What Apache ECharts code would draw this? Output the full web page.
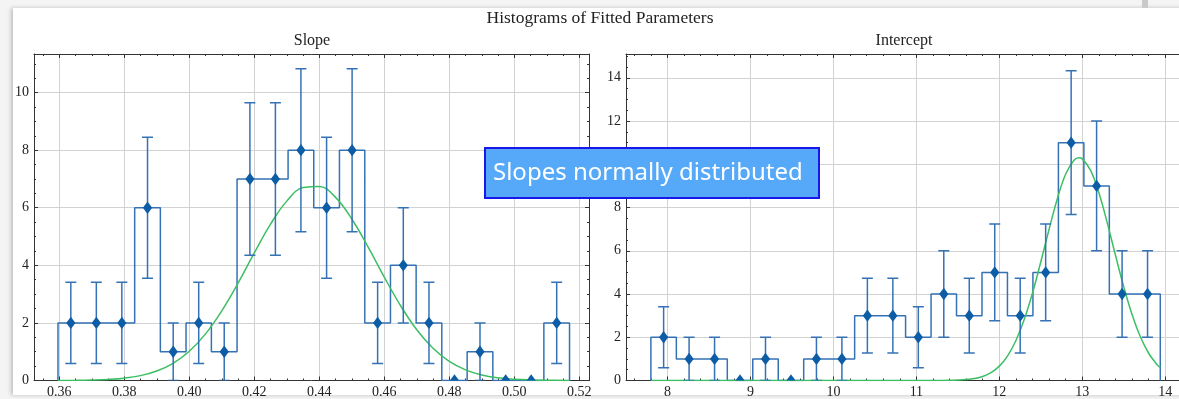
<!DOCTYPE html>
<html><head><meta charset="utf-8">
<script src="https://cdn.jsdelivr.net/npm/echarts@6/dist/echarts.min.js"></script>
<style>
html,body{margin:0;padding:0;background:#f4f4f4;}
#wrap{position:relative;width:1179px;height:399px;overflow:hidden;}
#sheet{position:absolute;left:13px;top:8px;width:1200px;height:387px;background:#fff;box-shadow:-2px 0 4px rgba(0,0,0,0.22);}
#bar{position:absolute;left:1142px;top:0;width:6px;height:8px;background:#c9c9c9;}
#chart{position:absolute;left:0;top:0;width:1179px;height:399px;}
</style></head><body>
<div id="wrap"><div id="sheet"></div><div id="bar"></div><div id="chart"></div></div>
<script>
// ---- data ----
const slopeEdges = [0.3596,0.3675,0.3753,0.3832,0.3911,0.3990,0.4068,0.4147,0.4226,0.4304,0.4383,0.4462,0.4540,0.4619,0.4698,0.4777,0.4855,0.4934,0.5013,0.5091,0.5170];
const slopeCounts = [2,2,2,6,1,2,1,7,7,8,6,8,2,4,2,0,1,0,0,2];
const slopeErrors = [1.41,1.41,1.41,2.45,1,1.41,1,2.65,2.65,2.83,2.45,2.83,1.41,2,1.41,0,1,0,0,1.41];
const slopeFitX = [0.3596,0.365,0.37,0.375,0.38,0.385,0.39,0.395,0.40,0.405,0.41,0.415,0.42,0.425,0.43,0.435,0.44,0.445,0.45,0.455,0.46,0.465,0.47,0.475,0.48,0.485,0.49,0.495,0.50,0.505,0.51,0.517];
const slopeFitY = [0.002,0.006,0.016,0.037,0.081,0.169,0.328,0.596,1.015,1.62,2.42,3.38,4.43,5.43,6.23,6.70,6.74,6.36,5.61,4.64,3.59,2.60,1.76,1.12,0.667,0.371,0.194,0.095,0.043,0.019,0.007,0.002];

const interceptEdges = [7.800,8.107,8.414,8.721,9.028,9.335,9.642,9.949,10.256,10.563,10.870,11.177,11.484,11.791,12.098,12.405,12.712,13.019,13.326,13.633,13.940];
const interceptCounts = [2,1,1,0,1,0,1,1,3,3,2,4,3,5,3,5,11,9,4,4];
const interceptErrors = [1.41,1,1,0,1,0,1,1,1.73,1.73,1.41,2,1.73,2.24,1.73,2.24,3.32,3,2,2];
const interceptFitX = [7.8,9.0,10.0,10.8,11.2,11.4,11.5,11.6,11.7,11.8,11.9,12.0,12.1,12.2,12.3,12.4,12.5,12.6,12.7,12.8,12.9,12.96,13.0,13.1,13.2,13.3,13.4,13.5,13.6,13.7,13.8,13.9,13.94];
const interceptFitY = [0,0,0,0,0.001,0.007,0.018,0.042,0.092,0.188,0.364,0.664,1.14,1.85,2.82,4.05,5.49,7.00,8.42,9.55,10.19,10.3,10.25,9.72,8.68,7.30,5.79,4.33,3.05,2.02,1.26,0.744,0.59];

const figureTitle = 'Histograms of Fitted Parameters';
const panelTitles = ['Slope', 'Intercept'];
const annotationText = 'Slopes normally distributed';

// ---- styling ----
const SERIF = '"Liberation Serif", "DejaVu Serif", serif';
const LINE = '#3572b5';
const MARK = '#0C5DA5';
const GREEN = '#3cbf63';
const AX = '#333';

function stepPoints(edges, counts) {
  const pts = [[edges[0], 0]];
  for (let i = 0; i < counts.length; i++) { pts.push([edges[i], counts[i]]); pts.push([edges[i + 1], counts[i]]); }
  pts.push([edges[edges.length - 1], 0]);
  return pts;
}
function centers(edges) { return edges.slice(0, -1).map((e, i) => (e + edges[i + 1]) / 2); }
function zip(a, b) { return a.map((v, i) => [v, b[i]]); }

function axis(grid, pos, min, max, step, minor, dec, showLabel, split) {
  return {
    type: 'value', gridIndex: grid, position: pos, min: min, max: max,
    minInterval: step, maxInterval: step,
    axisLine: { show: true, onZero: false, lineStyle: { color: AX, width: 1 } },
    axisTick: { show: true, inside: true, length: 4, lineStyle: { color: AX, width: 1 } },
    minorTick: { show: true, splitNumber: minor, length: 2, lineStyle: { color: AX, width: 1 } },
    axisLabel: {
      show: showLabel, margin: 5,
      fontFamily: SERIF, fontSize: 14, color: '#222',
      formatter: v => Math.abs(v / step - Math.round(v / step)) < 1e-6 ? Number(v).toFixed(dec) : ''
    },
    splitLine: { show: split, lineStyle: { color: '#d2d2d2', width: 1 } },
    minorSplitLine: { show: false }
  };
}

function panelSeries(xi, yi, edges, counts, errs, fx, fy) {
  const cx = centers(edges);
  const errData = [];
  cx.forEach((x, i) => { if (errs[i] > 0) errData.push([x, counts[i] - errs[i], counts[i] + errs[i]]); });
  return [
    { type: 'line', xAxisIndex: xi, yAxisIndex: yi, data: stepPoints(edges, counts), showSymbol: false, symbol: 'none',
      lineStyle: { color: LINE, width: 1.5 }, z: 2, silent: true },
    { type: 'line', xAxisIndex: xi, yAxisIndex: yi, data: zip(fx, fy), showSymbol: false, symbol: 'none',
      smooth: 0.4, lineStyle: { color: GREEN, width: 1.5 }, z: 3, silent: true },
    { type: 'custom', xAxisIndex: xi, yAxisIndex: yi, data: errData, z: 4, silent: true, clip: true,
      encode: { x: 0, y: [1, 2] },
      renderItem: function (params, api) {
        const x = api.value(0), lo = api.value(1), hi = api.value(2);
        const p1 = api.coord([x, lo]), p2 = api.coord([x, hi]);
        const cw = 5.5, st = { stroke: LINE, lineWidth: 1.5 };
        return { type: 'group', children: [
          { type: 'line', shape: { x1: p1[0], y1: p1[1], x2: p2[0], y2: p2[1] }, style: st },
          { type: 'line', shape: { x1: p1[0] - cw, y1: p1[1], x2: p1[0] + cw, y2: p1[1] }, style: st },
          { type: 'line', shape: { x1: p2[0] - cw, y1: p2[1], x2: p2[0] + cw, y2: p2[1] }, style: st }
        ] };
      } },
    { type: 'custom', xAxisIndex: xi, yAxisIndex: yi, data: zip(cx, counts), z: 5, silent: true, clip: true,
      encode: { x: 0, y: 1 },
      renderItem: function (params, api) {
        const p = api.coord([api.value(0), api.value(1)]);
        const hw = 4.6, hh = 6.2;
        return { type: 'polygon', shape: { points: [[p[0], p[1] - hh], [p[0] + hw, p[1]], [p[0], p[1] + hh], [p[0] - hw, p[1]]] },
          style: { fill: MARK } };
      } }
  ];
}

const chart = echarts.init(document.getElementById('chart'), null, { renderer: 'canvas' });
chart.setOption({
  animation: false,
  backgroundColor: 'transparent',
  title: [
    { text: figureTitle, left: 600, top: 9, textAlign: 'center', padding: 0,
      textStyle: { fontFamily: SERIF, fontSize: 17.5, fontWeight: 'normal', color: '#222' } },
    { text: panelTitles[0], left: 312, top: 33, textAlign: 'center', padding: 0,
      textStyle: { fontFamily: SERIF, fontSize: 16, fontWeight: 'normal', color: '#222' } },
    { text: panelTitles[1], left: 904, top: 33, textAlign: 'center', padding: 0,
      textStyle: { fontFamily: SERIF, fontSize: 16, fontWeight: 'normal', color: '#222' } }
  ],
  grid: [
    { left: 34, top: 54, width: 555, height: 326.5, containLabel: false, outerBoundsMode: 'none' },
    { left: 626, top: 54, width: 560, height: 326.5, containLabel: false, outerBoundsMode: 'none' }
  ],
  xAxis: [
    axis(0, 'bottom', 0.35222, 0.52299, 0.02, 4, 2, true, true),
    axis(0, 'top', 0.35222, 0.52299, 0.02, 4, 2, false, false),
    axis(1, 'bottom', 7.5, 14.25, 1, 5, 0, true, true),
    axis(1, 'top', 7.5, 14.25, 1, 5, 0, false, false)
  ],
  yAxis: [
    axis(0, 'left', 0, 11.34, 2, 4, 0, true, true),
    axis(0, 'right', 0, 11.34, 2, 4, 0, false, false),
    axis(1, 'left', 0, 15.1, 2, 4, 0, true, true),
    axis(1, 'right', 0, 15.1, 2, 4, 0, false, false)
  ],
  series: [].concat(
    panelSeries(0, 0, slopeEdges, slopeCounts, slopeErrors, slopeFitX, slopeFitY),
    panelSeries(2, 2, interceptEdges, interceptCounts, interceptErrors, interceptFitX, interceptFitY)
  ),
  graphic: [
    { type: 'rect', z: 100, shape: { x: 485, y: 148, width: 334, height: 50 },
      style: { fill: '#55a9f8', stroke: '#1818e8', lineWidth: 2 } },
    { type: 'text', z: 101, x: 493, y: 173,
      style: { text: annotationText, fill: '#ffffff', fontSize: 24, fontFamily: '"Noto Sans", sans-serif', verticalAlign: 'middle' } }
  ]
});
</script>
</body></html>
